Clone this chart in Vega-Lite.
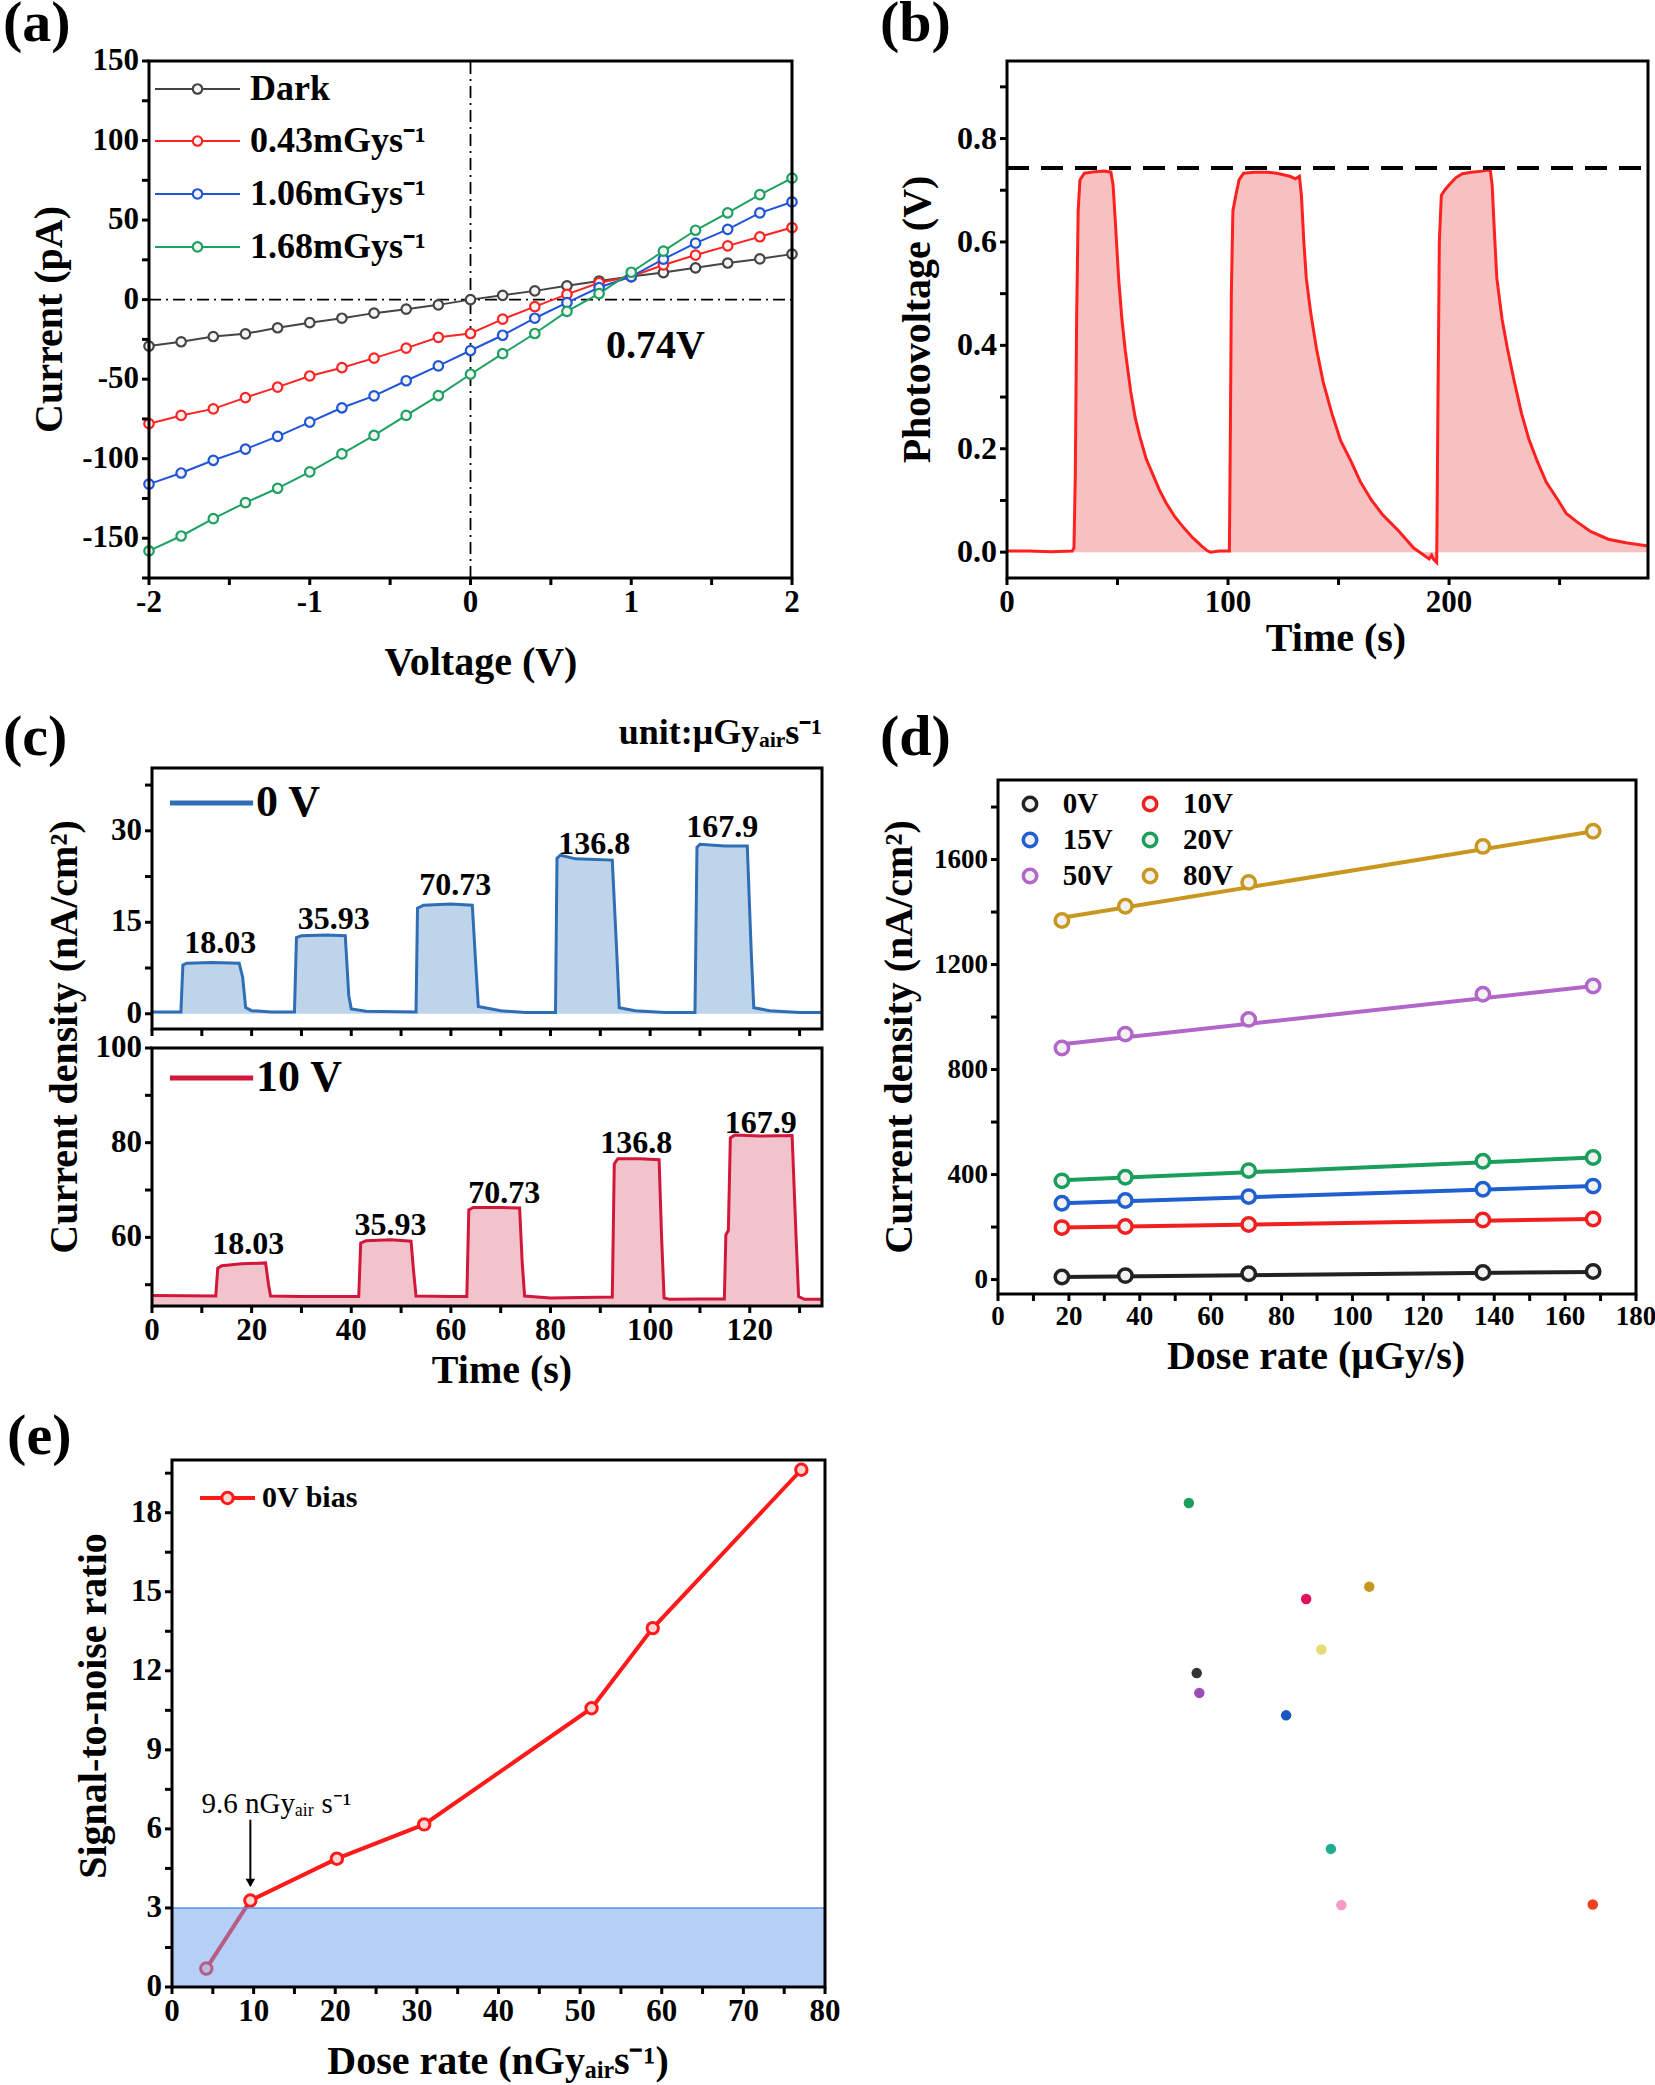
{
"$schema": "https://vega.github.io/schema/vega-lite/v6.json",
"width": 1655,
"height": 2085,
"autosize": {"type": "none"},
"padding": 0,
"background": "white",
"config": {"font": "Liberation Serif", "view": {"stroke": null}},
"datasets": {
  "iv": [
    {"x":-2,"y":-29.2,"s":"Dark"},{"x":-1.8,"y":-26.5,"s":"Dark"},{"x":-1.6,"y":-23.2,"s":"Dark"},{"x":-1.4,"y":-21.5,"s":"Dark"},{"x":-1.2,"y":-17.7,"s":"Dark"},{"x":-1,"y":-14.5,"s":"Dark"},{"x":-0.8,"y":-11.7,"s":"Dark"},{"x":-0.6,"y":-8.5,"s":"Dark"},{"x":-0.4,"y":-6,"s":"Dark"},{"x":-0.2,"y":-3.3,"s":"Dark"},{"x":0,"y":0,"s":"Dark"},{"x":0.2,"y":2.7,"s":"Dark"},{"x":0.4,"y":5.5,"s":"Dark"},{"x":0.6,"y":8.7,"s":"Dark"},{"x":0.8,"y":11.7,"s":"Dark"},{"x":1,"y":14.5,"s":"Dark"},{"x":1.2,"y":17,"s":"Dark"},{"x":1.4,"y":20,"s":"Dark"},{"x":1.6,"y":23,"s":"Dark"},{"x":1.8,"y":25.6,"s":"Dark"},{"x":2,"y":28.6,"s":"Dark"},
    {"x":-2,"y":-78,"s":"0.43mGys⁻¹"},{"x":-1.8,"y":-72.8,"s":"0.43mGys⁻¹"},{"x":-1.6,"y":-68.7,"s":"0.43mGys⁻¹"},{"x":-1.4,"y":-61.6,"s":"0.43mGys⁻¹"},{"x":-1.2,"y":-55,"s":"0.43mGys⁻¹"},{"x":-1,"y":-48,"s":"0.43mGys⁻¹"},{"x":-0.8,"y":-42.8,"s":"0.43mGys⁻¹"},{"x":-0.6,"y":-36.8,"s":"0.43mGys⁻¹"},{"x":-0.4,"y":-30.5,"s":"0.43mGys⁻¹"},{"x":-0.2,"y":-23.7,"s":"0.43mGys⁻¹"},{"x":0,"y":-21.3,"s":"0.43mGys⁻¹"},{"x":0.2,"y":-12.3,"s":"0.43mGys⁻¹"},{"x":0.4,"y":-4.4,"s":"0.43mGys⁻¹"},{"x":0.6,"y":3.3,"s":"0.43mGys⁻¹"},{"x":0.8,"y":10.6,"s":"0.43mGys⁻¹"},{"x":1,"y":14.5,"s":"0.43mGys⁻¹"},{"x":1.2,"y":21.8,"s":"0.43mGys⁻¹"},{"x":1.4,"y":28,"s":"0.43mGys⁻¹"},{"x":1.6,"y":33.8,"s":"0.43mGys⁻¹"},{"x":1.8,"y":39.5,"s":"0.43mGys⁻¹"},{"x":2,"y":45.3,"s":"0.43mGys⁻¹"},
    {"x":-2,"y":-116,"s":"1.06mGys⁻¹"},{"x":-1.8,"y":-109,"s":"1.06mGys⁻¹"},{"x":-1.6,"y":-101,"s":"1.06mGys⁻¹"},{"x":-1.4,"y":-94,"s":"1.06mGys⁻¹"},{"x":-1.2,"y":-86,"s":"1.06mGys⁻¹"},{"x":-1,"y":-77,"s":"1.06mGys⁻¹"},{"x":-0.8,"y":-68,"s":"1.06mGys⁻¹"},{"x":-0.6,"y":-60.5,"s":"1.06mGys⁻¹"},{"x":-0.4,"y":-51,"s":"1.06mGys⁻¹"},{"x":-0.2,"y":-41.7,"s":"1.06mGys⁻¹"},{"x":0,"y":-32,"s":"1.06mGys⁻¹"},{"x":0.2,"y":-22.4,"s":"1.06mGys⁻¹"},{"x":0.4,"y":-11.7,"s":"1.06mGys⁻¹"},{"x":0.6,"y":-1.9,"s":"1.06mGys⁻¹"},{"x":0.8,"y":7.6,"s":"1.06mGys⁻¹"},{"x":1,"y":14.5,"s":"1.06mGys⁻¹"},{"x":1.2,"y":25.4,"s":"1.06mGys⁻¹"},{"x":1.4,"y":35.5,"s":"1.06mGys⁻¹"},{"x":1.6,"y":44.2,"s":"1.06mGys⁻¹"},{"x":1.8,"y":54.5,"s":"1.06mGys⁻¹"},{"x":2,"y":61.4,"s":"1.06mGys⁻¹"},
    {"x":-2,"y":-158,"s":"1.68mGys⁻¹"},{"x":-1.8,"y":-148.6,"s":"1.68mGys⁻¹"},{"x":-1.6,"y":-137.7,"s":"1.68mGys⁻¹"},{"x":-1.4,"y":-127.6,"s":"1.68mGys⁻¹"},{"x":-1.2,"y":-118.6,"s":"1.68mGys⁻¹"},{"x":-1,"y":-108.3,"s":"1.68mGys⁻¹"},{"x":-0.8,"y":-97,"s":"1.68mGys⁻¹"},{"x":-0.6,"y":-85.4,"s":"1.68mGys⁻¹"},{"x":-0.4,"y":-72.8,"s":"1.68mGys⁻¹"},{"x":-0.2,"y":-60.3,"s":"1.68mGys⁻¹"},{"x":0,"y":-46.9,"s":"1.68mGys⁻¹"},{"x":0.2,"y":-34,"s":"1.68mGys⁻¹"},{"x":0.4,"y":-21.3,"s":"1.68mGys⁻¹"},{"x":0.6,"y":-7.4,"s":"1.68mGys⁻¹"},{"x":0.8,"y":3.8,"s":"1.68mGys⁻¹"},{"x":1,"y":17.2,"s":"1.68mGys⁻¹"},{"x":1.2,"y":30.5,"s":"1.68mGys⁻¹"},{"x":1.4,"y":43.6,"s":"1.68mGys⁻¹"},{"x":1.6,"y":54.5,"s":"1.68mGys⁻¹"},{"x":1.8,"y":66,"s":"1.68mGys⁻¹"},{"x":2,"y":76.4,"s":"1.68mGys⁻¹"}
  ],
  "ivref": [{"x":0,"y":-175,"x2":0,"y2":150},{"x":-2,"y":0,"x2":2,"y2":0}],
  "legA": [{"s":"Dark","y":132.4},{"s":"0.43mGys⁻¹","y":99.7},{"s":"1.06mGys⁻¹","y":66.4},{"s":"1.68mGys⁻¹","y":33.1}],
  "pv": [
    {"x":0,"y":0.002},{"x":10,"y":0.002},{"x":20,"y":0.001},{"x":29.5,"y":0.002},{"x":30.3,"y":0.008},{"x":30.9,"y":0.15},{"x":31.5,"y":0.45},{"x":32.2,"y":0.66},{"x":33,"y":0.72},{"x":35,"y":0.733},{"x":40,"y":0.736},{"x":44,"y":0.737},{"x":47,"y":0.735},{"x":48,"y":0.71},{"x":49,"y":0.64},{"x":50.5,"y":0.53},{"x":52,"y":0.45},{"x":53.5,"y":0.39},{"x":56,"y":0.31},{"x":58,"y":0.26},{"x":60,"y":0.225},{"x":63,"y":0.18},{"x":66,"y":0.15},{"x":69,"y":0.12},{"x":72,"y":0.095},{"x":76,"y":0.068},{"x":80,"y":0.047},{"x":84,"y":0.028},{"x":88,"y":0.012},{"x":90.5,"y":0.003},{"x":92,"y":0.0},{"x":96,"y":0.002},{"x":100.6,"y":0.002},
    {"x":101,"y":0.2},{"x":101.5,"y":0.5},{"x":102.2,"y":0.66},{"x":103.5,"y":0.69},{"x":105,"y":0.72},{"x":107,"y":0.733},{"x":112,"y":0.735},{"x":118,"y":0.735},{"x":122,"y":0.733},{"x":125,"y":0.73},{"x":128,"y":0.727},{"x":130.5,"y":0.722},{"x":132.3,"y":0.727},{"x":133.2,"y":0.69},{"x":134.3,"y":0.6},{"x":135.4,"y":0.53},{"x":137.5,"y":0.46},{"x":140,"y":0.394},{"x":143,"y":0.33},{"x":147,"y":0.268},{"x":151,"y":0.215},{"x":155.6,"y":0.176},{"x":160,"y":0.135},{"x":165,"y":0.1},{"x":170,"y":0.072},{"x":177,"y":0.042},{"x":184,"y":0.008},{"x":188,"y":-0.004},{"x":191,"y":-0.013},{"x":192.1,"y":-0.006},{"x":193,"y":-0.014},{"x":194.4,"y":-0.02},
    {"x":194.9,"y":0.25},{"x":195.6,"y":0.6},{"x":196.5,"y":0.69},{"x":198,"y":0.7},{"x":200,"y":0.71},{"x":203,"y":0.724},{"x":206,"y":0.732},{"x":210,"y":0.735},{"x":215,"y":0.737},{"x":218.6,"y":0.74},{"x":219.5,"y":0.71},{"x":220.5,"y":0.62},{"x":221.6,"y":0.53},{"x":224,"y":0.45},{"x":226.4,"y":0.394},{"x":229.5,"y":0.33},{"x":232.8,"y":0.268},{"x":236,"y":0.22},{"x":239.9,"y":0.176},{"x":244,"y":0.135},{"x":249.4,"y":0.1},{"x":253,"y":0.075},{"x":257.7,"y":0.059},{"x":264,"y":0.04},{"x":272,"y":0.025},{"x":280,"y":0.018},{"x":290,"y":0.012}
  ],
  "c0": [
    {"x":0,"y":0.3},{"x":5.8,"y":0.3},{"x":6.2,"y":8.0},{"x":7,"y":8.3},{"x":12,"y":8.4},{"x":17.5,"y":8.3},{"x":18.2,"y":6},{"x":18.8,"y":1.0},{"x":20,"y":0.5},{"x":24,"y":0.3},{"x":28.6,"y":0.3},
    {"x":29,"y":12.5},{"x":30,"y":12.8},{"x":35,"y":12.9},{"x":38.8,"y":12.8},{"x":39.5,"y":3},{"x":40,"y":0.8},{"x":43,"y":0.4},{"x":53,"y":0.3},
    {"x":53.3,"y":17.3},{"x":54.5,"y":17.8},{"x":60,"y":18.0},{"x":64.3,"y":17.8},{"x":65,"y":8},{"x":65.5,"y":1.2},{"x":70,"y":0.5},{"x":75,"y":0.2},{"x":81,"y":0.2},
    {"x":81.3,"y":25.5},{"x":82,"y":26},{"x":85,"y":25.4},{"x":92.4,"y":25.2},{"x":93.3,"y":10},{"x":93.8,"y":1.0},{"x":97,"y":0.5},{"x":103,"y":0.2},{"x":109,"y":0.2},
    {"x":109.4,"y":27.3},{"x":110,"y":27.8},{"x":115,"y":27.5},{"x":119.5,"y":27.5},{"x":120.3,"y":10},{"x":120.8,"y":1.0},{"x":124,"y":0.5},{"x":130,"y":0.2},{"x":134.5,"y":0.2}
  ],
  "c10": [
    {"x":0,"y":47.7},{"x":12.8,"y":47.6},{"x":13.2,"y":53.5},{"x":14,"y":54.0},{"x":18,"y":54.4},{"x":22.8,"y":54.6},{"x":23.4,"y":50},{"x":23.8,"y":47.6},{"x":30,"y":47.5},{"x":41.5,"y":47.5},
    {"x":41.9,"y":58.8},{"x":43,"y":59.3},{"x":48,"y":59.5},{"x":52,"y":59.2},{"x":52.5,"y":53},{"x":53,"y":47.6},{"x":60,"y":47.5},{"x":63.2,"y":47.5},
    {"x":63.6,"y":65.8},{"x":64.5,"y":66.3},{"x":70,"y":66.3},{"x":73.8,"y":66.2},{"x":74.3,"y":55},{"x":74.8,"y":47.6},{"x":80,"y":47.2},{"x":92.4,"y":47.4},
    {"x":92.8,"y":75.5},{"x":93.5,"y":76.6},{"x":98,"y":76.6},{"x":101.8,"y":76.4},{"x":102.3,"y":60},{"x":102.8,"y":47.2},{"x":104,"y":46.9},{"x":110,"y":47.0},{"x":114.9,"y":47.0},
    {"x":115.2,"y":60.5},{"x":115.7,"y":61.5},{"x":116.1,"y":81.0},{"x":117,"y":81.6},{"x":122,"y":81.4},{"x":128.5,"y":81.5},{"x":129.3,"y":60},{"x":129.8,"y":47.5},{"x":131,"y":46.9},{"x":134.5,"y":46.9}
  ],
  "c0lab": [{"x":13.7,"y":11.6,"label":"18.03"},{"x":36.5,"y":15.5,"label":"35.93"},{"x":60.9,"y":21.1,"label":"70.73"},{"x":88.8,"y":27.8,"label":"136.8"},{"x":114.5,"y":30.6,"label":"167.9"}],
  "c10lab": [{"x":19.3,"y":58.6,"label":"18.03"},{"x":47.9,"y":62.6,"label":"35.93"},{"x":70.7,"y":69.3,"label":"70.73"},{"x":97.2,"y":80,"label":"136.8"},{"x":122.2,"y":84.2,"label":"167.9"}],
  "dd": [
    {"x":18.03,"y":10,"s":"0V"},{"x":35.93,"y":15,"s":"0V"},{"x":70.73,"y":22,"s":"0V"},{"x":136.8,"y":27,"s":"0V"},{"x":167.9,"y":31,"s":"0V"},
    {"x":18.03,"y":198,"s":"10V"},{"x":35.93,"y":202,"s":"10V"},{"x":70.73,"y":210,"s":"10V"},{"x":136.8,"y":227,"s":"10V"},{"x":167.9,"y":231,"s":"10V"},
    {"x":18.03,"y":291,"s":"15V"},{"x":35.93,"y":301,"s":"15V"},{"x":70.73,"y":316,"s":"15V"},{"x":136.8,"y":344,"s":"15V"},{"x":167.9,"y":356,"s":"15V"},
    {"x":18.03,"y":376,"s":"20V"},{"x":35.93,"y":390,"s":"20V"},{"x":70.73,"y":415,"s":"20V"},{"x":136.8,"y":451,"s":"20V"},{"x":167.9,"y":465,"s":"20V"},
    {"x":18.03,"y":882,"s":"50V"},{"x":35.93,"y":935,"s":"50V"},{"x":70.73,"y":991,"s":"50V"},{"x":136.8,"y":1087,"s":"50V"},{"x":167.9,"y":1118,"s":"50V"},
    {"x":18.03,"y":1368,"s":"80V"},{"x":35.93,"y":1422,"s":"80V"},{"x":70.73,"y":1513,"s":"80V"},{"x":136.8,"y":1650,"s":"80V"},{"x":167.9,"y":1708,"s":"80V"}
  ],
  "dfit": [
    {"x":18,"y":10,"x2":168,"y2":29,"s":"0V"},{"x":18,"y":198,"x2":168,"y2":231,"s":"10V"},{"x":18,"y":291,"x2":168,"y2":356,"s":"15V"},
    {"x":18,"y":378,"x2":168,"y2":465,"s":"20V"},{"x":18,"y":896,"x2":168,"y2":1118,"s":"50V"},{"x":18,"y":1378,"x2":168,"y2":1708,"s":"80V"}
  ],
  "legD": [{"s":"0V","x":9.03,"xl":18.3,"y":1811.6},{"s":"10V","x":42.9,"xl":52.2,"y":1811.6},{"s":"15V","x":9.03,"xl":18.3,"y":1674.4},{"s":"20V","x":42.9,"xl":52.2,"y":1674.4},{"s":"50V","x":9.03,"xl":18.3,"y":1537.3},{"s":"80V","x":42.9,"xl":52.2,"y":1537.3}],
  "snr": [{"x":4.2,"y":0.7},{"x":9.6,"y":3.28},{"x":20.2,"y":4.87},{"x":30.9,"y":6.17},{"x":51.4,"y":10.58},{"x":58.9,"y":13.62},{"x":77.1,"y":19.63}],
  "fpts": [{"x":54.1,"y":475,"name":"CsPbBr3"},{"x":207.5,"y":222,"name":"MhyPbBr3"},{"x":427.6,"y":244.7,"name":"BDA"},{"x":247,"y":148.7,"name":"BA2PbI4"},{"x":59.2,"y":123.3,"name":"MNPA"},{"x":61,"y":105.4,"name":"CsAgBiBr6"},{"x":164.9,"y":88.2,"name":"SBPEA"},{"x":275.4,"y":30.6,"name":"RPPA"},{"x":310.6,"y":19.6,"name":"BA2CsPb2Br7"},{"x":5539,"y":19.7,"name":"aSe"}],
  "flab": [
    {"x":62.9,"y":467,"name":"CsPbBr3","label":"CsPbBr₃","w":"b"},
    {"x":43.3,"y":213,"name":"MhyPbBr3","label":"MhyPbBr₃","w":"b"},
    {"x":473,"y":235,"name":"BDA","label":"(BDA)PbI₄ , 3100V","w":"b"},
    {"x":272,"y":142.7,"name":"BA2PbI4","label":"(BA)₂PbI₄ , 10V","w":"b"},
    {"x":22.6,"y":146.7,"name":"MNPA","label":"(3-MNPA)PbBr₄","w":"n"},
    {"x":68,"y":102,"name":"CsAgBiBr6","label":"CsAgBiBr₆, 250V","w":"b"},
    {"x":64,"y":70.6,"name":"SBPEA","label":"(S-BPEA)₂FAPb₂I₇","w":"b"},
    {"x":117,"y":36.9,"name":"RPPA","label":"(R-PPA)₂BiI₅","w":"b"},
    {"x":81.5,"y":15.6,"name":"BA2CsPb2Br7","label":"(BA)₂CsPb₂Br₇ , 45V","w":"n"},
    {"x":1300,"y":25,"name":"aSe","label":"α-Se , 10000V","w":"b"},
    {"x":6.56,"y":92.9,"name":"This","label":"This work","w":"b"}
  ],
  "axA_x": [{"v":-2,"t":"-2"},{"v":-1.5,"t":""},{"v":-1,"t":"-1"},{"v":-0.5,"t":""},{"v":0,"t":"0"},{"v":0.5,"t":""},{"v":1,"t":"1"},{"v":1.5,"t":""},{"v":2,"t":"2"}],
  "axA_y": [{"v":-175,"t":""},{"v":-150,"t":"-150"},{"v":-125,"t":""},{"v":-100,"t":"-100"},{"v":-75,"t":""},{"v":-50,"t":"-50"},{"v":-25,"t":""},{"v":0,"t":"0"},{"v":25,"t":""},{"v":50,"t":"50"},{"v":75,"t":""},{"v":100,"t":"100"},{"v":125,"t":""},{"v":150,"t":"150"}],
  "axB_x": [{"v":0,"t":"0"},{"v":50,"t":""},{"v":100,"t":"100"},{"v":150,"t":""},{"v":200,"t":"200"},{"v":250,"t":""}],
  "axB_y": [{"v":0,"t":"0.0"},{"v":0.1,"t":""},{"v":0.2,"t":"0.2"},{"v":0.3,"t":""},{"v":0.4,"t":"0.4"},{"v":0.5,"t":""},{"v":0.6,"t":"0.6"},{"v":0.7,"t":""},{"v":0.8,"t":"0.8"},{"v":0.9,"t":""}],
  "axC_x": [{"v":0,"t":"0"},{"v":10,"t":""},{"v":20,"t":"20"},{"v":30,"t":""},{"v":40,"t":"40"},{"v":50,"t":""},{"v":60,"t":"60"},{"v":70,"t":""},{"v":80,"t":"80"},{"v":90,"t":""},{"v":100,"t":"100"},{"v":110,"t":""},{"v":120,"t":"120"},{"v":130,"t":""}],
  "axCT_y": [{"v":0,"t":"0"},{"v":7.5,"t":""},{"v":15,"t":"15"},{"v":22.5,"t":""},{"v":30,"t":"30"},{"v":37.5,"t":""}],
  "axCB_y": [{"v":50,"t":""},{"v":60,"t":"60"},{"v":70,"t":""},{"v":80,"t":"80"},{"v":90,"t":""},{"v":100,"t":"100"}],
  "axD_x": [{"v":0,"t":"0"},{"v":10,"t":""},{"v":20,"t":"20"},{"v":30,"t":""},{"v":40,"t":"40"},{"v":50,"t":""},{"v":60,"t":"60"},{"v":70,"t":""},{"v":80,"t":"80"},{"v":90,"t":""},{"v":100,"t":"100"},{"v":110,"t":""},{"v":120,"t":"120"},{"v":130,"t":""},{"v":140,"t":"140"},{"v":150,"t":""},{"v":160,"t":"160"},{"v":170,"t":""},{"v":180,"t":"180"}],
  "axD_y": [{"v":0,"t":"0"},{"v":200,"t":""},{"v":400,"t":"400"},{"v":600,"t":""},{"v":800,"t":"800"},{"v":1000,"t":""},{"v":1200,"t":"1200"},{"v":1400,"t":""},{"v":1600,"t":"1600"},{"v":1800,"t":""}],
  "axE_x": [{"v":0,"t":"0"},{"v":5,"t":""},{"v":10,"t":"10"},{"v":15,"t":""},{"v":20,"t":"20"},{"v":25,"t":""},{"v":30,"t":"30"},{"v":35,"t":""},{"v":40,"t":"40"},{"v":45,"t":""},{"v":50,"t":"50"},{"v":55,"t":""},{"v":60,"t":"60"},{"v":65,"t":""},{"v":70,"t":"70"},{"v":75,"t":""},{"v":80,"t":"80"}],
  "axE_y": [{"v":0,"t":"0"},{"v":1.5,"t":""},{"v":3,"t":"3"},{"v":4.5,"t":""},{"v":6,"t":"6"},{"v":7.5,"t":""},{"v":9,"t":"9"},{"v":10.5,"t":""},{"v":12,"t":"12"},{"v":13.5,"t":""},{"v":15,"t":"15"},{"v":16.5,"t":""},{"v":18,"t":"18"},{"v":19.5,"t":""}],
  "axF_x": [{"v":6,"t":""},{"v":7,"t":""},{"v":8,"t":""},{"v":9,"t":""},{"v":10,"t":"10"},{"v":20,"t":""},{"v":30,"t":""},{"v":40,"t":""},{"v":50,"t":""},{"v":60,"t":""},{"v":70,"t":""},{"v":80,"t":""},{"v":90,"t":""},{"v":100,"t":"100"},{"v":200,"t":""},{"v":300,"t":""},{"v":400,"t":""},{"v":500,"t":""},{"v":600,"t":""},{"v":700,"t":""},{"v":800,"t":""},{"v":900,"t":""},{"v":1000,"t":"1000"},{"v":2000,"t":""},{"v":3000,"t":""},{"v":4000,"t":""},{"v":5000,"t":""},{"v":6000,"t":""},{"v":7000,"t":""},{"v":8000,"t":""},{"v":9000,"t":""}],
  "axF_y": [{"v":10,"t":"10"},{"v":20,"t":""},{"v":30,"t":""},{"v":40,"t":""},{"v":50,"t":""},{"v":60,"t":""},{"v":70,"t":""},{"v":80,"t":""},{"v":90,"t":""},{"v":100,"t":"100"},{"v":200,"t":""},{"v":300,"t":""},{"v":400,"t":""},{"v":500,"t":""},{"v":600,"t":""}]
},
"resolve": {"scale": {"x": "independent", "y": "independent", "color": "independent"}},
"layer": [
  {"data": {"name": "ivref"}, "mark": {"type": "rule", "color": "black", "strokeWidth": 1.8, "strokeDash": [12, 5, 2, 5]}, "encoding": {"x": {"field": "x", "type": "quantitative", "scale": {"domain": [-2, 2], "range": [149, 792]}, "axis": null}, "y": {"field": "y", "type": "quantitative", "scale": {"domain": [-175, 150], "range": [578, 61]}, "axis": null}, "x2": {"field": "x2"}, "y2": {"field": "y2"}}},
  {"data": {"name": "iv"}, "transform": [{"filter": "datum.s == 'Dark'"}], "mark": {"type": "line", "color": "#444444", "strokeWidth": 2}, "encoding": {"x": {"field": "x", "type": "quantitative", "scale": {"domain": [-2, 2], "range": [149, 792]}, "axis": null}, "y": {"field": "y", "type": "quantitative", "scale": {"domain": [-175, 150], "range": [578, 61]}, "axis": null}}},
  {"data": {"name": "iv"}, "transform": [{"filter": "datum.s == '0.43mGys⁻¹'"}], "mark": {"type": "line", "color": "#ff2424", "strokeWidth": 2}, "encoding": {"x": {"field": "x", "type": "quantitative", "scale": {"domain": [-2, 2], "range": [149, 792]}, "axis": null}, "y": {"field": "y", "type": "quantitative", "scale": {"domain": [-175, 150], "range": [578, 61]}, "axis": null}}},
  {"data": {"name": "iv"}, "transform": [{"filter": "datum.s == '1.06mGys⁻¹'"}], "mark": {"type": "line", "color": "#1f55d6", "strokeWidth": 2}, "encoding": {"x": {"field": "x", "type": "quantitative", "scale": {"domain": [-2, 2], "range": [149, 792]}, "axis": null}, "y": {"field": "y", "type": "quantitative", "scale": {"domain": [-175, 150], "range": [578, 61]}, "axis": null}}},
  {"data": {"name": "iv"}, "transform": [{"filter": "datum.s == '1.68mGys⁻¹'"}], "mark": {"type": "line", "color": "#1ea062", "strokeWidth": 2}, "encoding": {"x": {"field": "x", "type": "quantitative", "scale": {"domain": [-2, 2], "range": [149, 792]}, "axis": null}, "y": {"field": "y", "type": "quantitative", "scale": {"domain": [-175, 150], "range": [578, 61]}, "axis": null}}},
  {"data": {"name": "iv"}, "mark": {"type": "point", "filled": false, "fill": "#f4f4f4", "size": 90, "strokeWidth": 2.2, "opacity": 1}, "encoding": {"x": {"field": "x", "type": "quantitative", "scale": {"domain": [-2, 2], "range": [149, 792]}, "axis": null}, "y": {"field": "y", "type": "quantitative", "scale": {"domain": [-175, 150], "range": [578, 61]}, "axis": null}, "color": {"field": "s", "type": "nominal", "scale": {"domain": ["Dark","0.43mGys⁻¹","1.06mGys⁻¹","1.68mGys⁻¹"], "range": ["#444444","#ff2424","#1f55d6","#1ea062"]}, "legend": null}}},
  {"data": {"name": "legA"}, "mark": {"type": "rule", "strokeWidth": 2}, "encoding": {"x": {"datum": -1.9627, "type": "quantitative", "scale": {"domain": [-2, 2], "range": [149, 792]}, "axis": null}, "x2": {"datum": -1.4339}, "y": {"field": "y", "type": "quantitative", "scale": {"domain": [-175, 150], "range": [578, 61]}, "axis": null}, "color": {"field": "s", "type": "nominal", "scale": {"domain": ["Dark","0.43mGys⁻¹","1.06mGys⁻¹","1.68mGys⁻¹"], "range": ["#444444","#ff2424","#1f55d6","#1ea062"]}, "legend": null}}},
  {"data": {"name": "legA"}, "mark": {"type": "point", "filled": false, "fill": "#f4f4f4", "size": 90, "strokeWidth": 2.2, "opacity": 1}, "encoding": {"x": {"datum": -1.6982, "type": "quantitative", "scale": {"domain": [-2, 2], "range": [149, 792]}, "axis": null}, "y": {"field": "y", "type": "quantitative", "scale": {"domain": [-175, 150], "range": [578, 61]}, "axis": null}, "color": {"field": "s", "type": "nominal", "scale": {"domain": ["Dark","0.43mGys⁻¹","1.06mGys⁻¹","1.68mGys⁻¹"], "range": ["#444444","#ff2424","#1f55d6","#1ea062"]}, "legend": null}}},
  {"data": {"name": "legA"}, "mark": {"type": "text", "fontSize": 36, "fontWeight": "bold", "color": "black", "align": "left", "baseline": "middle"}, "encoding": {"x": {"datum": -1.3717, "type": "quantitative", "scale": {"domain": [-2, 2], "range": [149, 792]}, "axis": null}, "y": {"field": "y", "type": "quantitative", "scale": {"domain": [-175, 150], "range": [578, 61]}, "axis": null}, "text": {"field": "s", "type": "nominal"}}},
  {"data": {"values": [{"x": -2, "x2": 2, "y": -175, "y2": 150}]}, "mark": {"type": "rect", "filled": false, "color": "black", "strokeWidth": 3}, "encoding": {"x": {"field": "x", "type": "quantitative", "scale": {"domain": [-2, 2], "range": [149, 792]}, "axis": null}, "y": {"field": "y", "type": "quantitative", "scale": {"domain": [-175, 150], "range": [578, 61]}, "axis": null}, "x2": {"field": "x2"}, "y2": {"field": "y2"}}},
  {"data": {"name": "axA_x"}, "mark": {"type": "rule", "color": "black", "strokeWidth": 3}, "encoding": {"x": {"field": "v", "type": "quantitative", "scale": {"domain": [-2, 2], "range": [149, 792]}, "axis": null}, "y": {"datum": -175, "type": "quantitative", "scale": {"domain": [-175, 150], "range": [578, 61]}, "axis": null}, "y2": {"datum": -179.4}}},
  {"data": {"name": "axA_x"}, "mark": {"type": "text", "fontSize": 31, "fontWeight": "bold", "color": "black", "align": "center", "baseline": "top"}, "encoding": {"x": {"field": "v", "type": "quantitative", "scale": {"domain": [-2, 2], "range": [149, 792]}, "axis": null}, "y": {"datum": -181.3, "type": "quantitative", "scale": {"domain": [-175, 150], "range": [578, 61]}, "axis": null}, "text": {"field": "t", "type": "nominal"}}},
  {"data": {"name": "axA_y"}, "mark": {"type": "rule", "color": "black", "strokeWidth": 3}, "encoding": {"y": {"field": "v", "type": "quantitative", "scale": {"domain": [-175, 150], "range": [578, 61]}, "axis": null}, "x": {"datum": -2, "type": "quantitative", "scale": {"domain": [-2, 2], "range": [149, 792]}, "axis": null}, "x2": {"datum": -2.0436}}},
  {"data": {"name": "axA_y"}, "mark": {"type": "text", "fontSize": 31, "fontWeight": "bold", "color": "black", "align": "right", "baseline": "middle"}, "encoding": {"y": {"field": "v", "type": "quantitative", "scale": {"domain": [-175, 150], "range": [578, 61]}, "axis": null}, "x": {"datum": -2.0622, "type": "quantitative", "scale": {"domain": [-2, 2], "range": [149, 792]}, "axis": null}, "text": {"field": "t", "type": "nominal"}}},
  {"data": {"values": [{"x": 0.065, "y": -236, "label": "Voltage (V)"}, {"x": 1.15, "y": -37, "label": "0.74V"}]}, "mark": {"type": "text", "fontSize": 40, "fontWeight": "bold", "color": "black", "align": "center", "baseline": "alphabetic"}, "encoding": {"x": {"field": "x", "type": "quantitative", "scale": {"domain": [-2, 2], "range": [149, 792]}, "axis": null}, "y": {"field": "y", "type": "quantitative", "scale": {"domain": [-175, 150], "range": [578, 61]}, "axis": null}, "text": {"field": "label", "type": "nominal"}}},
  {"data": {"values": [{"x": -2.541, "y": -12.5, "label": "Current (pA)"}]}, "mark": {"type": "text", "fontSize": 40, "fontWeight": "bold", "color": "black", "align": "center", "baseline": "alphabetic", "angle": 270}, "encoding": {"x": {"field": "x", "type": "quantitative", "scale": {"domain": [-2, 2], "range": [149, 792]}, "axis": null}, "y": {"field": "y", "type": "quantitative", "scale": {"domain": [-175, 150], "range": [578, 61]}, "axis": null}, "text": {"field": "label", "type": "nominal"}}},
  {"data": {"values": [{"x": -2.908, "y": 162.5, "label": "(a)"}]}, "mark": {"type": "text", "fontSize": 58, "fontWeight": "bold", "color": "black", "align": "left", "baseline": "alphabetic"}, "encoding": {"x": {"field": "x", "type": "quantitative", "scale": {"domain": [-2, 2], "range": [149, 792]}, "axis": null}, "y": {"field": "y", "type": "quantitative", "scale": {"domain": [-175, 150], "range": [578, 61]}, "axis": null}, "text": {"field": "label", "type": "nominal"}}},

  {"data": {"name": "pv"}, "mark": {"type": "area", "color": "#f07575", "opacity": 0.45}, "encoding": {"x": {"field": "x", "type": "quantitative", "scale": {"domain": [0, 290], "range": [1007, 1648]}, "axis": null}, "y": {"field": "y", "type": "quantitative", "scale": {"domain": [-0.05, 0.95], "range": [578, 61]}, "axis": null}, "y2": {"datum": 0}}},
  {"data": {"name": "pv"}, "mark": {"type": "line", "color": "#ff2020", "strokeWidth": 3}, "encoding": {"x": {"field": "x", "type": "quantitative", "scale": {"domain": [0, 290], "range": [1007, 1648]}, "axis": null}, "y": {"field": "y", "type": "quantitative", "scale": {"domain": [-0.05, 0.95], "range": [578, 61]}, "axis": null}}},
  {"data": {"values": [{"x": 0, "x2": 290, "y": 0.743, "y2": 0.743}]}, "mark": {"type": "rule", "color": "black", "strokeWidth": 4, "strokeDash": [22, 12]}, "encoding": {"x": {"field": "x", "type": "quantitative", "scale": {"domain": [0, 290], "range": [1007, 1648]}, "axis": null}, "y": {"field": "y", "type": "quantitative", "scale": {"domain": [-0.05, 0.95], "range": [578, 61]}, "axis": null}, "x2": {"field": "x2"}, "y2": {"field": "y2"}}},
  {"data": {"values": [{"x": 0, "x2": 290, "y": -0.05, "y2": 0.95}]}, "mark": {"type": "rect", "filled": false, "color": "black", "strokeWidth": 3}, "encoding": {"x": {"field": "x", "type": "quantitative", "scale": {"domain": [0, 290], "range": [1007, 1648]}, "axis": null}, "y": {"field": "y", "type": "quantitative", "scale": {"domain": [-0.05, 0.95], "range": [578, 61]}, "axis": null}, "x2": {"field": "x2"}, "y2": {"field": "y2"}}},
  {"data": {"name": "axB_x"}, "mark": {"type": "rule", "color": "black", "strokeWidth": 3}, "encoding": {"x": {"field": "v", "type": "quantitative", "scale": {"domain": [0, 290], "range": [1007, 1648]}, "axis": null}, "y": {"datum": -0.05, "type": "quantitative", "scale": {"domain": [-0.05, 0.95], "range": [578, 61]}, "axis": null}, "y2": {"datum": -0.0635}}},
  {"data": {"name": "axB_x"}, "mark": {"type": "text", "fontSize": 31, "fontWeight": "bold", "color": "black", "align": "center", "baseline": "top"}, "encoding": {"x": {"field": "v", "type": "quantitative", "scale": {"domain": [0, 290], "range": [1007, 1648]}, "axis": null}, "y": {"datum": -0.0693, "type": "quantitative", "scale": {"domain": [-0.05, 0.95], "range": [578, 61]}, "axis": null}, "text": {"field": "t", "type": "nominal"}}},
  {"data": {"name": "axB_y"}, "mark": {"type": "rule", "color": "black", "strokeWidth": 3}, "encoding": {"y": {"field": "v", "type": "quantitative", "scale": {"domain": [-0.05, 0.95], "range": [578, 61]}, "axis": null}, "x": {"datum": 0, "type": "quantitative", "scale": {"domain": [0, 290], "range": [1007, 1648]}, "axis": null}, "x2": {"datum": -3.17}}},
  {"data": {"name": "axB_y"}, "mark": {"type": "text", "fontSize": 32, "fontWeight": "bold", "color": "black", "align": "right", "baseline": "middle"}, "encoding": {"y": {"field": "v", "type": "quantitative", "scale": {"domain": [-0.05, 0.95], "range": [578, 61]}, "axis": null}, "x": {"datum": -4.52, "type": "quantitative", "scale": {"domain": [0, 290], "range": [1007, 1648]}, "axis": null}, "text": {"field": "t", "type": "nominal"}}},
  {"data": {"values": [{"x": 148.85, "y": -0.1912, "label": "Time (s)"}]}, "mark": {"type": "text", "fontSize": 40, "fontWeight": "bold", "color": "black", "align": "center", "baseline": "alphabetic"}, "encoding": {"x": {"field": "x", "type": "quantitative", "scale": {"domain": [0, 290], "range": [1007, 1648]}, "axis": null}, "y": {"field": "y", "type": "quantitative", "scale": {"domain": [-0.05, 0.95], "range": [578, 61]}, "axis": null}, "text": {"field": "label", "type": "nominal"}}},
  {"data": {"values": [{"x": -34.84, "y": 0.45, "label": "Photovoltage (V)"}]}, "mark": {"type": "text", "fontSize": 40, "fontWeight": "bold", "color": "black", "align": "center", "baseline": "alphabetic", "angle": 270}, "encoding": {"x": {"field": "x", "type": "quantitative", "scale": {"domain": [0, 290], "range": [1007, 1648]}, "axis": null}, "y": {"field": "y", "type": "quantitative", "scale": {"domain": [-0.05, 0.95], "range": [578, 61]}, "axis": null}, "text": {"field": "label", "type": "nominal"}}},
  {"data": {"values": [{"x": -57.5, "y": 0.989, "label": "(b)"}]}, "mark": {"type": "text", "fontSize": 58, "fontWeight": "bold", "color": "black", "align": "left", "baseline": "alphabetic"}, "encoding": {"x": {"field": "x", "type": "quantitative", "scale": {"domain": [0, 290], "range": [1007, 1648]}, "axis": null}, "y": {"field": "y", "type": "quantitative", "scale": {"domain": [-0.05, 0.95], "range": [578, 61]}, "axis": null}, "text": {"field": "label", "type": "nominal"}}},

  {"data": {"name": "c0"}, "mark": {"type": "area", "color": "#6f9fd3", "opacity": 0.45}, "encoding": {"x": {"field": "x", "type": "quantitative", "scale": {"domain": [0, 134.5], "range": [152, 822]}, "axis": null}, "y": {"field": "y", "type": "quantitative", "scale": {"domain": [-2.5, 40.3], "range": [1029, 768]}, "axis": null}, "y2": {"datum": 0}}},
  {"data": {"name": "c0"}, "mark": {"type": "line", "color": "#2f6eb5", "strokeWidth": 3}, "encoding": {"x": {"field": "x", "type": "quantitative", "scale": {"domain": [0, 134.5], "range": [152, 822]}, "axis": null}, "y": {"field": "y", "type": "quantitative", "scale": {"domain": [-2.5, 40.3], "range": [1029, 768]}, "axis": null}}},
  {"data": {"values": [{"x": 3.6, "x2": 20.3, "y": 34.56, "y2": 34.56}]}, "mark": {"type": "rule", "color": "#2f6eb5", "strokeWidth": 5}, "encoding": {"x": {"field": "x", "type": "quantitative", "scale": {"domain": [0, 134.5], "range": [152, 822]}, "axis": null}, "y": {"field": "y", "type": "quantitative", "scale": {"domain": [-2.5, 40.3], "range": [1029, 768]}, "axis": null}, "x2": {"field": "x2"}, "y2": {"field": "y2"}}},
  {"data": {"values": [{"x": 0, "x2": 134.5, "y": -2.5, "y2": 40.3}]}, "mark": {"type": "rect", "filled": false, "color": "black", "strokeWidth": 3}, "encoding": {"x": {"field": "x", "type": "quantitative", "scale": {"domain": [0, 134.5], "range": [152, 822]}, "axis": null}, "y": {"field": "y", "type": "quantitative", "scale": {"domain": [-2.5, 40.3], "range": [1029, 768]}, "axis": null}, "x2": {"field": "x2"}, "y2": {"field": "y2"}}},
  {"data": {"name": "c0lab"}, "mark": {"type": "text", "fontSize": 32, "fontWeight": "bold", "color": "black", "baseline": "middle"}, "encoding": {"x": {"field": "x", "type": "quantitative", "scale": {"domain": [0, 134.5], "range": [152, 822]}, "axis": null}, "y": {"field": "y", "type": "quantitative", "scale": {"domain": [-2.5, 40.3], "range": [1029, 768]}, "axis": null}, "text": {"field": "label", "type": "nominal"}}},
  {"data": {"values": [{"x": 134.5, "y": 44.2, "label": "unit:μGyₐᵢᵣs⁻¹"}]}, "mark": {"type": "text", "fontSize": 36, "fontWeight": "bold", "color": "black", "align": "right", "baseline": "alphabetic"}, "encoding": {"x": {"field": "x", "type": "quantitative", "scale": {"domain": [0, 134.5], "range": [152, 822]}, "axis": null}, "y": {"field": "y", "type": "quantitative", "scale": {"domain": [-2.5, 40.3], "range": [1029, 768]}, "axis": null}, "text": {"field": "label", "type": "nominal"}}},
  {"data": {"values": [{"x": 20.9, "y": 34.56, "label": "0 V"}]}, "mark": {"type": "text", "fontSize": 44, "fontWeight": "bold", "color": "black", "align": "left", "baseline": "middle"}, "encoding": {"x": {"field": "x", "type": "quantitative", "scale": {"domain": [0, 134.5], "range": [152, 822]}, "axis": null}, "y": {"field": "y", "type": "quantitative", "scale": {"domain": [-2.5, 40.3], "range": [1029, 768]}, "axis": null}, "text": {"field": "label", "type": "nominal"}}},
  {"data": {"values": [{"x": -29.9, "y": 42.43, "label": "(c)"}]}, "mark": {"type": "text", "fontSize": 58, "fontWeight": "bold", "color": "black", "align": "left", "baseline": "alphabetic"}, "encoding": {"x": {"field": "x", "type": "quantitative", "scale": {"domain": [0, 134.5], "range": [152, 822]}, "axis": null}, "y": {"field": "y", "type": "quantitative", "scale": {"domain": [-2.5, 40.3], "range": [1029, 768]}, "axis": null}, "text": {"field": "label", "type": "nominal"}}},
  {"data": {"name": "axC_x"}, "mark": {"type": "rule", "color": "black", "strokeWidth": 3}, "encoding": {"x": {"field": "v", "type": "quantitative", "scale": {"domain": [0, 134.5], "range": [152, 822]}, "axis": null}, "y": {"datum": -2.5, "type": "quantitative", "scale": {"domain": [-2.5, 40.3], "range": [1029, 768]}, "axis": null}, "y2": {"datum": -3.65}}},
  {"data": {"name": "axCT_y"}, "mark": {"type": "rule", "color": "black", "strokeWidth": 3}, "encoding": {"y": {"field": "v", "type": "quantitative", "scale": {"domain": [-2.5, 40.3], "range": [1029, 768]}, "axis": null}, "x": {"datum": 0, "type": "quantitative", "scale": {"domain": [0, 134.5], "range": [152, 822]}, "axis": null}, "x2": {"datum": -1.405}}},
  {"data": {"name": "axCT_y"}, "mark": {"type": "text", "fontSize": 31, "fontWeight": "bold", "color": "black", "align": "right", "baseline": "middle"}, "encoding": {"y": {"field": "v", "type": "quantitative", "scale": {"domain": [-2.5, 40.3], "range": [1029, 768]}, "axis": null}, "x": {"datum": -2.0, "type": "quantitative", "scale": {"domain": [0, 134.5], "range": [152, 822]}, "axis": null}, "text": {"field": "t", "type": "nominal"}}},
  {"data": {"values": [{"x": -15.06, "y": -3.81, "label": "Current density (nA/cm²)"}]}, "mark": {"type": "text", "fontSize": 40, "fontWeight": "bold", "color": "black", "align": "center", "baseline": "alphabetic", "angle": 270}, "encoding": {"x": {"field": "x", "type": "quantitative", "scale": {"domain": [0, 134.5], "range": [152, 822]}, "axis": null}, "y": {"field": "y", "type": "quantitative", "scale": {"domain": [-2.5, 40.3], "range": [1029, 768]}, "axis": null}, "text": {"field": "label", "type": "nominal"}}},

  {"data": {"name": "c10"}, "mark": {"type": "area", "color": "#dc6a80", "opacity": 0.4}, "encoding": {"x": {"field": "x", "type": "quantitative", "scale": {"domain": [0, 134.5], "range": [152, 822]}, "axis": null}, "y": {"field": "y", "type": "quantitative", "scale": {"domain": [45.5, 100], "range": [1306, 1048]}, "axis": null}, "y2": {"datum": 45.5}}},
  {"data": {"name": "c10"}, "mark": {"type": "line", "color": "#d2183a", "strokeWidth": 3}, "encoding": {"x": {"field": "x", "type": "quantitative", "scale": {"domain": [0, 134.5], "range": [152, 822]}, "axis": null}, "y": {"field": "y", "type": "quantitative", "scale": {"domain": [45.5, 100], "range": [1306, 1048]}, "axis": null}}},
  {"data": {"values": [{"x": 3.6, "x2": 20.3, "y": 93.66, "y2": 93.66}]}, "mark": {"type": "rule", "color": "#d2183a", "strokeWidth": 5}, "encoding": {"x": {"field": "x", "type": "quantitative", "scale": {"domain": [0, 134.5], "range": [152, 822]}, "axis": null}, "y": {"field": "y", "type": "quantitative", "scale": {"domain": [45.5, 100], "range": [1306, 1048]}, "axis": null}, "x2": {"field": "x2"}, "y2": {"field": "y2"}}},
  {"data": {"values": [{"x": 0, "x2": 134.5, "y": 45.5, "y2": 100}]}, "mark": {"type": "rect", "filled": false, "color": "black", "strokeWidth": 3}, "encoding": {"x": {"field": "x", "type": "quantitative", "scale": {"domain": [0, 134.5], "range": [152, 822]}, "axis": null}, "y": {"field": "y", "type": "quantitative", "scale": {"domain": [45.5, 100], "range": [1306, 1048]}, "axis": null}, "x2": {"field": "x2"}, "y2": {"field": "y2"}}},
  {"data": {"name": "c10lab"}, "mark": {"type": "text", "fontSize": 32, "fontWeight": "bold", "color": "black", "baseline": "middle"}, "encoding": {"x": {"field": "x", "type": "quantitative", "scale": {"domain": [0, 134.5], "range": [152, 822]}, "axis": null}, "y": {"field": "y", "type": "quantitative", "scale": {"domain": [45.5, 100], "range": [1306, 1048]}, "axis": null}, "text": {"field": "label", "type": "nominal"}}},
  {"data": {"values": [{"x": 20.9, "y": 93.66, "label": "10 V"}]}, "mark": {"type": "text", "fontSize": 44, "fontWeight": "bold", "color": "black", "align": "left", "baseline": "middle"}, "encoding": {"x": {"field": "x", "type": "quantitative", "scale": {"domain": [0, 134.5], "range": [152, 822]}, "axis": null}, "y": {"field": "y", "type": "quantitative", "scale": {"domain": [45.5, 100], "range": [1306, 1048]}, "axis": null}, "text": {"field": "label", "type": "nominal"}}},
  {"data": {"name": "axC_x"}, "mark": {"type": "rule", "color": "black", "strokeWidth": 3}, "encoding": {"x": {"field": "v", "type": "quantitative", "scale": {"domain": [0, 134.5], "range": [152, 822]}, "axis": null}, "y": {"datum": 45.5, "type": "quantitative", "scale": {"domain": [45.5, 100], "range": [1306, 1048]}, "axis": null}, "y2": {"datum": 44.02}}},
  {"data": {"name": "axC_x"}, "mark": {"type": "text", "fontSize": 31, "fontWeight": "bold", "color": "black", "align": "center", "baseline": "top"}, "encoding": {"x": {"field": "v", "type": "quantitative", "scale": {"domain": [0, 134.5], "range": [152, 822]}, "axis": null}, "y": {"datum": 43.39, "type": "quantitative", "scale": {"domain": [45.5, 100], "range": [1306, 1048]}, "axis": null}, "text": {"field": "t", "type": "nominal"}}},
  {"data": {"name": "axCB_y"}, "mark": {"type": "rule", "color": "black", "strokeWidth": 3}, "encoding": {"y": {"field": "v", "type": "quantitative", "scale": {"domain": [45.5, 100], "range": [1306, 1048]}, "axis": null}, "x": {"datum": 0, "type": "quantitative", "scale": {"domain": [0, 134.5], "range": [152, 822]}, "axis": null}, "x2": {"datum": -1.405}}},
  {"data": {"name": "axCB_y"}, "mark": {"type": "text", "fontSize": 31, "fontWeight": "bold", "color": "black", "align": "right", "baseline": "middle"}, "encoding": {"y": {"field": "v", "type": "quantitative", "scale": {"domain": [45.5, 100], "range": [1306, 1048]}, "axis": null}, "x": {"datum": -2.0, "type": "quantitative", "scale": {"domain": [0, 134.5], "range": [152, 822]}, "axis": null}, "text": {"field": "t", "type": "nominal"}}},
  {"data": {"values": [{"x": 70.26, "y": 29.23, "label": "Time (s)"}]}, "mark": {"type": "text", "fontSize": 40, "fontWeight": "bold", "color": "black", "align": "center", "baseline": "alphabetic"}, "encoding": {"x": {"field": "x", "type": "quantitative", "scale": {"domain": [0, 134.5], "range": [152, 822]}, "axis": null}, "y": {"field": "y", "type": "quantitative", "scale": {"domain": [45.5, 100], "range": [1306, 1048]}, "axis": null}, "text": {"field": "label", "type": "nominal"}}},

  {"data": {"name": "dfit"}, "mark": {"type": "rule", "strokeWidth": 4}, "encoding": {"x": {"field": "x", "type": "quantitative", "scale": {"domain": [0, 180], "range": [998, 1636]}, "axis": null}, "y": {"field": "y", "type": "quantitative", "scale": {"domain": [-55, 1903], "range": [1294, 780]}, "axis": null}, "x2": {"field": "x2"}, "y2": {"field": "y2"}, "color": {"field": "s", "type": "nominal", "scale": {"domain": ["0V","10V","15V","20V","50V","80V"], "range": ["#222222","#f02020","#1f5fd0","#1a9e5c","#b266c9","#c9971f"]}, "legend": null}}},
  {"data": {"name": "dd"}, "mark": {"type": "point", "filled": false, "fill": "#f2f2f2", "size": 180, "strokeWidth": 3.5, "opacity": 1}, "encoding": {"x": {"field": "x", "type": "quantitative", "scale": {"domain": [0, 180], "range": [998, 1636]}, "axis": null}, "y": {"field": "y", "type": "quantitative", "scale": {"domain": [-55, 1903], "range": [1294, 780]}, "axis": null}, "color": {"field": "s", "type": "nominal", "scale": {"domain": ["0V","10V","15V","20V","50V","80V"], "range": ["#222222","#f02020","#1f5fd0","#1a9e5c","#b266c9","#c9971f"]}, "legend": null}}},
  {"data": {"name": "legD"}, "mark": {"type": "point", "filled": false, "fill": "#f2f2f2", "size": 180, "strokeWidth": 3.5, "opacity": 1}, "encoding": {"x": {"field": "x", "type": "quantitative", "scale": {"domain": [0, 180], "range": [998, 1636]}, "axis": null}, "y": {"field": "y", "type": "quantitative", "scale": {"domain": [-55, 1903], "range": [1294, 780]}, "axis": null}, "color": {"field": "s", "type": "nominal", "scale": {"domain": ["0V","10V","15V","20V","50V","80V"], "range": ["#222222","#f02020","#1f5fd0","#1a9e5c","#b266c9","#c9971f"]}, "legend": null}}},
  {"data": {"name": "legD"}, "mark": {"type": "text", "fontSize": 29, "fontWeight": "bold", "color": "black", "align": "left", "baseline": "middle"}, "encoding": {"x": {"field": "xl", "type": "quantitative", "scale": {"domain": [0, 180], "range": [998, 1636]}, "axis": null}, "y": {"field": "y", "type": "quantitative", "scale": {"domain": [-55, 1903], "range": [1294, 780]}, "axis": null}, "text": {"field": "s", "type": "nominal"}}},
  {"data": {"values": [{"x": 0, "x2": 180, "y": -55, "y2": 1903}]}, "mark": {"type": "rect", "filled": false, "color": "black", "strokeWidth": 3}, "encoding": {"x": {"field": "x", "type": "quantitative", "scale": {"domain": [0, 180], "range": [998, 1636]}, "axis": null}, "y": {"field": "y", "type": "quantitative", "scale": {"domain": [-55, 1903], "range": [1294, 780]}, "axis": null}, "x2": {"field": "x2"}, "y2": {"field": "y2"}}},
  {"data": {"name": "axD_x"}, "mark": {"type": "rule", "color": "black", "strokeWidth": 3}, "encoding": {"x": {"field": "v", "type": "quantitative", "scale": {"domain": [0, 180], "range": [998, 1636]}, "axis": null}, "y": {"datum": -55, "type": "quantitative", "scale": {"domain": [-55, 1903], "range": [1294, 780]}, "axis": null}, "y2": {"datum": -81.7}}},
  {"data": {"name": "axD_x"}, "mark": {"type": "text", "fontSize": 27, "fontWeight": "bold", "color": "black", "align": "center", "baseline": "top"}, "encoding": {"x": {"field": "v", "type": "quantitative", "scale": {"domain": [0, 180], "range": [998, 1636]}, "axis": null}, "y": {"datum": -93.1, "type": "quantitative", "scale": {"domain": [-55, 1903], "range": [1294, 780]}, "axis": null}, "text": {"field": "t", "type": "nominal"}}},
  {"data": {"name": "axD_y"}, "mark": {"type": "rule", "color": "black", "strokeWidth": 3}, "encoding": {"y": {"field": "v", "type": "quantitative", "scale": {"domain": [-55, 1903], "range": [1294, 780]}, "axis": null}, "x": {"datum": 0, "type": "quantitative", "scale": {"domain": [0, 180], "range": [998, 1636]}, "axis": null}, "x2": {"datum": -1.975}}},
  {"data": {"name": "axD_y"}, "mark": {"type": "text", "fontSize": 27, "fontWeight": "bold", "color": "black", "align": "right", "baseline": "middle"}, "encoding": {"y": {"field": "v", "type": "quantitative", "scale": {"domain": [-55, 1903], "range": [1294, 780]}, "axis": null}, "x": {"datum": -2.82, "type": "quantitative", "scale": {"domain": [0, 180], "range": [998, 1636]}, "axis": null}, "text": {"field": "t", "type": "nominal"}}},
  {"data": {"values": [{"x": 89.72, "y": -340.7, "label": "Dose rate (μGy/s)"}]}, "mark": {"type": "text", "fontSize": 40, "fontWeight": "bold", "color": "black", "align": "center", "baseline": "alphabetic"}, "encoding": {"x": {"field": "x", "type": "quantitative", "scale": {"domain": [0, 180], "range": [998, 1636]}, "axis": null}, "y": {"field": "y", "type": "quantitative", "scale": {"domain": [-55, 1903], "range": [1294, 780]}, "axis": null}, "text": {"field": "label", "type": "nominal"}}},
  {"data": {"values": [{"x": -24.26, "y": 924, "label": "Current density (nA/cm²)"}]}, "mark": {"type": "text", "fontSize": 40, "fontWeight": "bold", "color": "black", "align": "center", "baseline": "alphabetic", "angle": 270}, "encoding": {"x": {"field": "x", "type": "quantitative", "scale": {"domain": [0, 180], "range": [998, 1636]}, "axis": null}, "y": {"field": "y", "type": "quantitative", "scale": {"domain": [-55, 1903], "range": [1294, 780]}, "axis": null}, "text": {"field": "label", "type": "nominal"}}},
  {"data": {"values": [{"x": -33.3, "y": 1998, "label": "(d)"}]}, "mark": {"type": "text", "fontSize": 58, "fontWeight": "bold", "color": "black", "align": "left", "baseline": "alphabetic"}, "encoding": {"x": {"field": "x", "type": "quantitative", "scale": {"domain": [0, 180], "range": [998, 1636]}, "axis": null}, "y": {"field": "y", "type": "quantitative", "scale": {"domain": [-55, 1903], "range": [1294, 780]}, "axis": null}, "text": {"field": "label", "type": "nominal"}}},

  {"data": {"name": "snr"}, "mark": {"type": "line", "color": "#ff1a1a", "strokeWidth": 4}, "encoding": {"x": {"field": "x", "type": "quantitative", "scale": {"domain": [0, 80], "range": [172, 825]}, "axis": null}, "y": {"field": "y", "type": "quantitative", "scale": {"domain": [0, 20], "range": [1987, 1460]}, "axis": null}}},
  {"data": {"name": "snr"}, "mark": {"type": "point", "filled": false, "fill": "#ffd6d6", "color": "#ff1a1a", "size": 130, "strokeWidth": 3, "opacity": 1}, "encoding": {"x": {"field": "x", "type": "quantitative", "scale": {"domain": [0, 80], "range": [172, 825]}, "axis": null}, "y": {"field": "y", "type": "quantitative", "scale": {"domain": [0, 20], "range": [1987, 1460]}, "axis": null}}},
  {"data": {"values": [{"x": 0, "x2": 80, "y": 0, "y2": 3}]}, "mark": {"type": "rect", "color": "#6da0f0", "opacity": 0.5}, "encoding": {"x": {"field": "x", "type": "quantitative", "scale": {"domain": [0, 80], "range": [172, 825]}, "axis": null}, "y": {"field": "y", "type": "quantitative", "scale": {"domain": [0, 20], "range": [1987, 1460]}, "axis": null}, "x2": {"field": "x2"}, "y2": {"field": "y2"}}},
  {"data": {"values": [{"x": 0, "x2": 80, "y": 3, "y2": 3, "k": "band"}, {"x": 3.43, "x2": 10.17, "y": 18.56, "y2": 18.56, "k": "legend"}]}, "transform": [{"filter": "datum.k == 'band'"}], "mark": {"type": "rule", "color": "#5b8fe6", "strokeWidth": 1.5}, "encoding": {"x": {"field": "x", "type": "quantitative", "scale": {"domain": [0, 80], "range": [172, 825]}, "axis": null}, "y": {"field": "y", "type": "quantitative", "scale": {"domain": [0, 20], "range": [1987, 1460]}, "axis": null}, "x2": {"field": "x2"}, "y2": {"field": "y2"}}},
  {"data": {"values": [{"x": 3.43, "x2": 10.17, "y": 18.56, "y2": 18.56}]}, "mark": {"type": "rule", "color": "#ff1a1a", "strokeWidth": 4}, "encoding": {"x": {"field": "x", "type": "quantitative", "scale": {"domain": [0, 80], "range": [172, 825]}, "axis": null}, "y": {"field": "y", "type": "quantitative", "scale": {"domain": [0, 20], "range": [1987, 1460]}, "axis": null}, "x2": {"field": "x2"}, "y2": {"field": "y2"}}},
  {"data": {"values": [{"x": 6.8, "y": 18.56}]}, "mark": {"type": "point", "filled": false, "fill": "#ffd6d6", "color": "#ff1a1a", "size": 130, "strokeWidth": 3, "opacity": 1}, "encoding": {"x": {"field": "x", "type": "quantitative", "scale": {"domain": [0, 80], "range": [172, 825]}, "axis": null}, "y": {"field": "y", "type": "quantitative", "scale": {"domain": [0, 20], "range": [1987, 1460]}, "axis": null}}},
  {"data": {"values": [{"x": 11.03, "y": 18.56, "label": "0V bias"}]}, "mark": {"type": "text", "fontSize": 30, "fontWeight": "bold", "color": "black", "align": "left", "baseline": "middle"}, "encoding": {"x": {"field": "x", "type": "quantitative", "scale": {"domain": [0, 80], "range": [172, 825]}, "axis": null}, "y": {"field": "y", "type": "quantitative", "scale": {"domain": [0, 20], "range": [1987, 1460]}, "axis": null}, "text": {"field": "label", "type": "nominal"}}},
  {"data": {"values": [{"x": 9.6, "x2": 9.6, "y": 6.35, "y2": 3.85}]}, "mark": {"type": "rule", "color": "black", "strokeWidth": 2}, "encoding": {"x": {"field": "x", "type": "quantitative", "scale": {"domain": [0, 80], "range": [172, 825]}, "axis": null}, "y": {"field": "y", "type": "quantitative", "scale": {"domain": [0, 20], "range": [1987, 1460]}, "axis": null}, "x2": {"field": "x2"}, "y2": {"field": "y2"}}},
  {"data": {"values": [{"x": 9.6, "y": 3.95}]}, "mark": {"type": "point", "shape": "triangle-down", "filled": true, "color": "black", "size": 90, "opacity": 1}, "encoding": {"x": {"field": "x", "type": "quantitative", "scale": {"domain": [0, 80], "range": [172, 825]}, "axis": null}, "y": {"field": "y", "type": "quantitative", "scale": {"domain": [0, 20], "range": [1987, 1460]}, "axis": null}}},
  {"data": {"values": [{"x": 12.8, "y": 6.95, "label": "9.6 nGyₐᵢᵣ s⁻¹"}]}, "mark": {"type": "text", "fontSize": 29, "color": "black", "baseline": "middle"}, "encoding": {"x": {"field": "x", "type": "quantitative", "scale": {"domain": [0, 80], "range": [172, 825]}, "axis": null}, "y": {"field": "y", "type": "quantitative", "scale": {"domain": [0, 20], "range": [1987, 1460]}, "axis": null}, "text": {"field": "label", "type": "nominal"}}},
  {"data": {"values": [{"x": 0, "x2": 80, "y": 0, "y2": 20}]}, "mark": {"type": "rect", "filled": false, "color": "black", "strokeWidth": 3}, "encoding": {"x": {"field": "x", "type": "quantitative", "scale": {"domain": [0, 80], "range": [172, 825]}, "axis": null}, "y": {"field": "y", "type": "quantitative", "scale": {"domain": [0, 20], "range": [1987, 1460]}, "axis": null}, "x2": {"field": "x2"}, "y2": {"field": "y2"}}},
  {"data": {"name": "axE_x"}, "mark": {"type": "rule", "color": "black", "strokeWidth": 3}, "encoding": {"x": {"field": "v", "type": "quantitative", "scale": {"domain": [0, 80], "range": [172, 825]}, "axis": null}, "y": {"datum": 0, "type": "quantitative", "scale": {"domain": [0, 20], "range": [1987, 1460]}, "axis": null}, "y2": {"datum": -0.266}}},
  {"data": {"name": "axE_x"}, "mark": {"type": "text", "fontSize": 31, "fontWeight": "bold", "color": "black", "align": "center", "baseline": "top"}, "encoding": {"x": {"field": "v", "type": "quantitative", "scale": {"domain": [0, 80], "range": [172, 825]}, "axis": null}, "y": {"datum": -0.38, "type": "quantitative", "scale": {"domain": [0, 20], "range": [1987, 1460]}, "axis": null}, "text": {"field": "t", "type": "nominal"}}},
  {"data": {"name": "axE_y"}, "mark": {"type": "rule", "color": "black", "strokeWidth": 3}, "encoding": {"y": {"field": "v", "type": "quantitative", "scale": {"domain": [0, 20], "range": [1987, 1460]}, "axis": null}, "x": {"datum": 0, "type": "quantitative", "scale": {"domain": [0, 80], "range": [172, 825]}, "axis": null}, "x2": {"datum": -0.858}}},
  {"data": {"name": "axE_y"}, "mark": {"type": "text", "fontSize": 31, "fontWeight": "bold", "color": "black", "align": "right", "baseline": "middle"}, "encoding": {"y": {"field": "v", "type": "quantitative", "scale": {"domain": [0, 20], "range": [1987, 1460]}, "axis": null}, "x": {"datum": -1.225, "type": "quantitative", "scale": {"domain": [0, 80], "range": [172, 825]}, "axis": null}, "text": {"field": "t", "type": "nominal"}}},
  {"data": {"values": [{"x": 39.94, "y": -3.3, "label": "Dose rate (nGyₐᵢᵣs⁻¹)"}]}, "mark": {"type": "text", "fontSize": 40, "fontWeight": "bold", "color": "black", "align": "center", "baseline": "alphabetic"}, "encoding": {"x": {"field": "x", "type": "quantitative", "scale": {"domain": [0, 80], "range": [172, 825]}, "axis": null}, "y": {"field": "y", "type": "quantitative", "scale": {"domain": [0, 20], "range": [1987, 1460]}, "axis": null}, "text": {"field": "label", "type": "nominal"}}},
  {"data": {"values": [{"x": -8.086, "y": 10.664, "label": "Signal-to-noise ratio"}]}, "mark": {"type": "text", "fontSize": 40, "fontWeight": "bold", "color": "black", "align": "center", "baseline": "alphabetic", "angle": 270}, "encoding": {"x": {"field": "x", "type": "quantitative", "scale": {"domain": [0, 80], "range": [172, 825]}, "axis": null}, "y": {"field": "y", "type": "quantitative", "scale": {"domain": [0, 20], "range": [1987, 1460]}, "axis": null}, "text": {"field": "label", "type": "nominal"}}},
  {"data": {"values": [{"x": -20.2, "y": 20.23, "label": "(e)"}]}, "mark": {"type": "text", "fontSize": 58, "fontWeight": "bold", "color": "black", "align": "left", "baseline": "alphabetic"}, "encoding": {"x": {"field": "x", "type": "quantitative", "scale": {"domain": [0, 80], "range": [172, 825]}, "axis": null}, "y": {"field": "y", "type": "quantitative", "scale": {"domain": [0, 20], "range": [1987, 1460]}, "axis": null}, "text": {"field": "label", "type": "nominal"}}},

  {"data": {"name": "fpts"}, "mark": {"type": "point", "filled": true, "size": 110, "opacity": 1}, "encoding": {"x": {"field": "x", "type": "quantitative", "scale": {"type": "log", "domain": [5.8, 9300], "range": [994, 1638]}, "axis": null}, "y": {"field": "y", "type": "quantitative", "scale": {"type": "log", "domain": [10, 612], "range": [1990, 1471]}, "axis": null}, "color": {"field": "name", "type": "nominal", "scale": {"domain": ["CsPbBr3","MhyPbBr3","BDA","BA2PbI4","MNPA","CsAgBiBr6","SBPEA","RPPA","BA2CsPb2Br7","aSe","This"], "range": ["#1e9e5e","#e0105a","#c8961e","#e3dc78","#333333","#9b4fb5","#1a56c4","#1fae8c","#f59ac4","#f0401c","#ee1111"]}, "legend": null}}},
  {"data": {"values": [{"x": 9.6, "y": 115.7}]}, "mark": {"type": "point", "shape": "star", "filled": true, "color": "#ee1111", "size": 320, "opacity": 1}, "encoding": {"x": {"field": "x", "type": "quantitative", "scale": {"type": "log", "domain": [5.8, 9300], "range": [994, 1638]}, "axis": null}, "y": {"field": "y", "type": "quantitative", "scale": {"type": "log", "domain": [10, 612], "range": [1990, 1471]}, "axis": null}}},
  {"data": {"name": "flab"}, "transform": [{"filter": "datum.w == 'b'"}], "mark": {"type": "text", "fontSize": 26, "fontWeight": "bold", "align": "left", "baseline": "middle"}, "encoding": {"x": {"field": "x", "type": "quantitative", "scale": {"type": "log", "domain": [5.8, 9300], "range": [994, 1638]}, "axis": null}, "y": {"field": "y", "type": "quantitative", "scale": {"type": "log", "domain": [10, 612], "range": [1990, 1471]}, "axis": null}, "text": {"field": "label", "type": "nominal"}, "color": {"field": "name", "type": "nominal", "scale": {"domain": ["CsPbBr3","MhyPbBr3","BDA","BA2PbI4","MNPA","CsAgBiBr6","SBPEA","RPPA","BA2CsPb2Br7","aSe","This"], "range": ["#1e9e5e","#e0105a","#c8961e","#e3dc78","#333333","#9b4fb5","#1a56c4","#1fae8c","#f59ac4","#f0401c","#ee1111"]}, "legend": null}}},
  {"data": {"name": "flab"}, "transform": [{"filter": "datum.w == 'n'"}], "mark": {"type": "text", "fontSize": 26, "fontWeight": "normal", "align": "left", "baseline": "middle"}, "encoding": {"x": {"field": "x", "type": "quantitative", "scale": {"type": "log", "domain": [5.8, 9300], "range": [994, 1638]}, "axis": null}, "y": {"field": "y", "type": "quantitative", "scale": {"type": "log", "domain": [10, 612], "range": [1990, 1471]}, "axis": null}, "text": {"field": "label", "type": "nominal"}, "color": {"field": "name", "type": "nominal", "scale": {"domain": ["CsPbBr3","MhyPbBr3","BDA","BA2PbI4","MNPA","CsAgBiBr6","SBPEA","RPPA","BA2CsPb2Br7","aSe","This"], "range": ["#1e9e5e","#e0105a","#c8961e","#e3dc78","#333333","#9b4fb5","#1a56c4","#1fae8c","#f59ac4","#f0401c","#ee1111"]}, "legend": null}}},
  {"data": {"values": [{"x": 5.8, "x2": 9300, "y": 10, "y2": 612}]}, "mark": {"type": "rect", "filled": false, "color": "black", "strokeWidth": 3}, "encoding": {"x": {"field": "x", "type": "quantitative", "scale": {"type": "log", "domain": [5.8, 9300], "range": [994, 1638]}, "axis": null}, "y": {"field": "y", "type": "quantitative", "scale": {"type": "log", "domain": [10, 612], "range": [1990, 1471]}, "axis": null}, "x2": {"field": "x2"}, "y2": {"field": "y2"}}},
  {"data": {"name": "axF_x"}, "mark": {"type": "rule", "color": "black", "strokeWidth": 3}, "encoding": {"x": {"field": "v", "type": "quantitative", "scale": {"type": "log", "domain": [5.8, 9300], "range": [994, 1638]}, "axis": null}, "y": {"datum": 10, "type": "quantitative", "scale": {"type": "log", "domain": [10, 612], "range": [1990, 1471]}, "axis": null}, "y2": {"datum": 9.46}}},
  {"data": {"name": "axF_x"}, "mark": {"type": "text", "fontSize": 33, "fontWeight": "bold", "color": "black", "align": "center", "baseline": "top"}, "encoding": {"x": {"field": "v", "type": "quantitative", "scale": {"type": "log", "domain": [5.8, 9300], "range": [994, 1638]}, "axis": null}, "y": {"datum": 9.24, "type": "quantitative", "scale": {"type": "log", "domain": [10, 612], "range": [1990, 1471]}, "axis": null}, "text": {"field": "t", "type": "nominal"}}},
  {"data": {"name": "axF_y"}, "mark": {"type": "rule", "color": "black", "strokeWidth": 3}, "encoding": {"y": {"field": "v", "type": "quantitative", "scale": {"type": "log", "domain": [10, 612], "range": [1990, 1471]}, "axis": null}, "x": {"datum": 5.8, "type": "quantitative", "scale": {"type": "log", "domain": [5.8, 9300], "range": [994, 1638]}, "axis": null}, "x2": {"datum": 5.353}}},
  {"data": {"name": "axF_y"}, "mark": {"type": "text", "fontSize": 33, "fontWeight": "bold", "color": "black", "align": "right", "baseline": "middle"}, "encoding": {"y": {"field": "v", "type": "quantitative", "scale": {"type": "log", "domain": [10, 612], "range": [1990, 1471]}, "axis": null}, "x": {"datum": 5.17, "type": "quantitative", "scale": {"type": "log", "domain": [5.8, 9300], "range": [994, 1638]}, "axis": null}, "text": {"field": "t", "type": "nominal"}}},
  {"data": {"values": [{"x": 251.6, "y": 5.097, "label": "Detection limit (nGyₐᵢᵣs⁻¹)"}, {"x": 1.645, "y": 612, "label": "(f)"}]}, "transform": [{"filter": "datum.label != '(f)'"}], "mark": {"type": "text", "fontSize": 40, "fontWeight": "bold", "color": "black", "align": "center", "baseline": "alphabetic"}, "encoding": {"x": {"field": "x", "type": "quantitative", "scale": {"type": "log", "domain": [5.8, 9300], "range": [994, 1638]}, "axis": null}, "y": {"field": "y", "type": "quantitative", "scale": {"type": "log", "domain": [10, 612], "range": [1990, 1471]}, "axis": null}, "text": {"field": "label", "type": "nominal"}}},
  {"data": {"values": [{"x": 2.632, "y": 78.22, "label": "Sensitivity (μC Gyₐᵢᵣ⁻¹ cm⁻²)"}]}, "mark": {"type": "text", "fontSize": 40, "fontWeight": "bold", "color": "black", "align": "center", "baseline": "alphabetic", "angle": 270}, "encoding": {"x": {"field": "x", "type": "quantitative", "scale": {"type": "log", "domain": [5.8, 9300], "range": [994, 1638]}, "axis": null}, "y": {"field": "y", "type": "quantitative", "scale": {"type": "log", "domain": [10, 612], "range": [1990, 1471]}, "axis": null}, "text": {"field": "label", "type": "nominal"}}},
  {"data": {"values": [{"x": 1.645, "y": 612, "label": "(f)"}]}, "mark": {"type": "text", "fontSize": 58, "fontWeight": "bold", "color": "black", "align": "left", "baseline": "alphabetic"}, "encoding": {"x": {"field": "x", "type": "quantitative", "scale": {"type": "log", "domain": [5.8, 9300], "range": [994, 1638]}, "axis": null}, "y": {"field": "y", "type": "quantitative", "scale": {"type": "log", "domain": [10, 612], "range": [1990, 1471]}, "axis": null}, "text": {"field": "label", "type": "nominal"}}}
]
}
